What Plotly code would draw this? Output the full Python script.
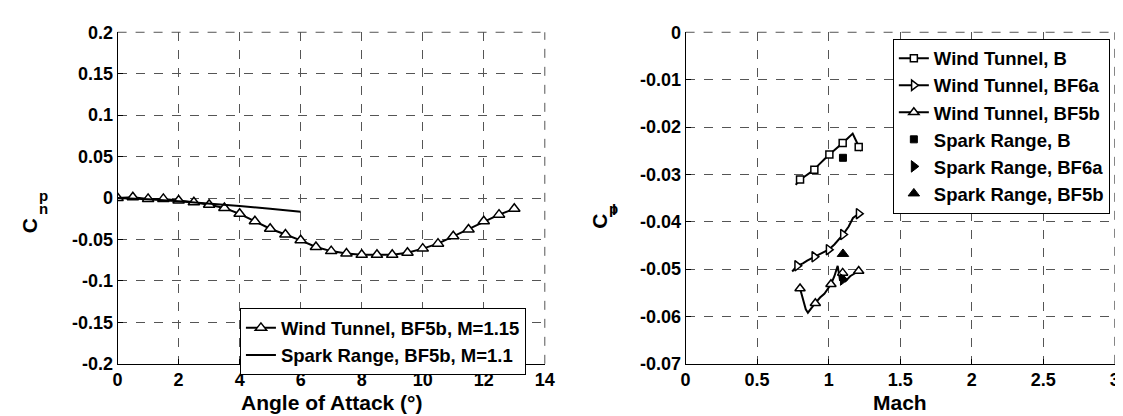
import plotly.graph_objects as go

# ---------------- Left panel data ----------------
aoa_wt = [0, 0.5, 1, 1.5, 2, 2.5, 3, 3.5, 4, 4.5, 5, 5.5, 6, 6.5, 7, 7.5, 8, 8.5,
          9, 9.5, 10, 10.5, 11, 11.5, 12, 12.5, 13]
cnp_wt = [0.0, 0.001, -0.001, -0.001, -0.003, -0.005, -0.008, -0.012, -0.019,
          -0.028, -0.037, -0.044, -0.051, -0.059, -0.064, -0.067, -0.0685,
          -0.0685, -0.0685, -0.066, -0.061, -0.055, -0.046, -0.038, -0.028,
          -0.020, -0.013]
aoa_sr = [0, 1, 2, 3, 4, 5, 6]
cnp_sr = [0.0, -0.0015, -0.004, -0.0065, -0.0095, -0.013, -0.0165]

# ---------------- Right panel data ----------------
mach_b_line = [0.77, 0.80, 0.83, 0.86, 0.90, 0.93, 0.95, 0.97, 1.005, 1.03, 1.06,
               1.098, 1.13, 1.168, 1.19, 1.21, 1.226]
clp_b_line = [-0.0322, -0.0311, -0.0305, -0.0298, -0.0290, -0.0280, -0.0275,
              -0.0268, -0.0258, -0.0252, -0.0244, -0.0234, -0.0225, -0.0214,
              -0.0228, -0.0242, -0.0251]
mach_b_mk = [0.80, 0.90, 1.005, 1.098, 1.21]
clp_b_mk = [-0.0311, -0.0290, -0.0258, -0.0234, -0.0242]

mach_6a_line = [0.745, 0.78, 0.82, 0.85, 0.90, 0.93, 0.96, 1.0, 1.04, 1.07, 1.10,
                1.14, 1.17, 1.21]
clp_6a_line = [-0.0505, -0.0493, -0.0488, -0.0482, -0.0474, -0.0470, -0.0465,
               -0.0459, -0.0448, -0.0438, -0.0427, -0.0410, -0.0392, -0.0383]
mach_6a_mk = [0.78, 0.90, 1.0, 1.10, 1.21]
clp_6a_mk = [-0.0493, -0.0474, -0.0459, -0.0427, -0.0383]

mach_5b_line = [0.80, 0.82, 0.84, 0.855, 0.87, 0.89, 0.907, 0.94, 0.97, 1.0, 1.016,
                1.04, 1.063, 1.08, 1.098, 1.12, 1.15, 1.21]
clp_5b_line = [-0.0541, -0.0565, -0.0585, -0.0592, -0.0585, -0.0578, -0.0572,
               -0.0560, -0.0552, -0.0540, -0.0532, -0.0515, -0.0493, -0.0525,
               -0.0508, -0.0525, -0.0515, -0.0504]
mach_5b_mk = [0.80, 0.907, 1.016, 1.098, 1.21]
clp_5b_mk = [-0.0541, -0.0572, -0.0532, -0.0508, -0.0504]

mach_sr_b, clp_sr_b = [1.10], [-0.0265]
mach_sr_6a, clp_sr_6a = [1.10], [-0.0522]
mach_sr_5b, clp_sr_5b = [1.10], [-0.0468]

W, H = 1123, 416
FONT = "Liberation Sans, Arial, sans-serif"

def px_x(p):
    return p / W

def px_y(p):
    return 1 - p / H

fig = go.Figure()

# ----- left panel -----
fig.add_trace(go.Scatter(
    x=aoa_wt, y=cnp_wt, mode="lines+markers", name="Wind Tunnel, BF5b, M=1.15",
    line=dict(color="black", width=2),
    marker=dict(symbol="triangle-up", size=10, color="white",
                line=dict(color="black", width=1.5)),
    xaxis="x", yaxis="y", legend="legend"))
fig.add_trace(go.Scatter(
    x=aoa_sr, y=cnp_sr, mode="lines", name="Spark Range, BF5b, M=1.1",
    line=dict(color="black", width=2), xaxis="x", yaxis="y", legend="legend"))

# ----- right panel -----
def wt_series(xl, yl, xm, ym, sym, size, name):
    fig.add_trace(go.Scatter(x=xl, y=yl, mode="lines", showlegend=False,
                             line=dict(color="black", width=2),
                             xaxis="x2", yaxis="y2", hoverinfo="skip"))
    fig.add_trace(go.Scatter(x=xm, y=ym, mode="markers", showlegend=False,
                             marker=dict(symbol=sym, size=size, color="white",
                                         line=dict(color="black", width=1.5)),
                             xaxis="x2", yaxis="y2"))
    fig.add_trace(go.Scatter(x=[None], y=[None], mode="lines+markers", name=name,
                             line=dict(color="black", width=2),
                             marker=dict(symbol=sym, size=size, color="white",
                                         line=dict(color="black", width=1.5)),
                             xaxis="x2", yaxis="y2", legend="legend2"))

wt_series(mach_b_line, clp_b_line, mach_b_mk, clp_b_mk, "square", 7, "Wind Tunnel, B")
wt_series(mach_6a_line, clp_6a_line, mach_6a_mk, clp_6a_mk, "triangle-right", 9,
          "Wind Tunnel, BF6a")
wt_series(mach_5b_line, clp_5b_line, mach_5b_mk, clp_5b_mk, "triangle-up", 9,
          "Wind Tunnel, BF5b")

for xs, ys, sym, size, name in [
        (mach_sr_b, clp_sr_b, "square", 7, "Spark Range, B"),
        (mach_sr_6a, clp_sr_6a, "triangle-right", 10, "Spark Range, BF6a"),
        (mach_sr_5b, clp_sr_5b, "triangle-up", 10, "Spark Range, BF5b")]:
    fig.add_trace(go.Scatter(x=xs, y=ys, mode="markers", name=name,
                             marker=dict(symbol=sym, size=size, color="black",
                                         line=dict(color="black", width=1)),
                             xaxis="x2", yaxis="y2", legend="legend2"))

GRIDC = "#555555"
axis_common = dict(
    showline=True, linecolor="black", linewidth=1, mirror=False,
    ticks="inside", ticklen=5, tickcolor="black",
    showgrid=True, gridcolor=GRIDC, gridwidth=1, griddash="dash",
    zeroline=False, tickfont=dict(family=FONT, size=18, color="black", weight="bold"),
)

x1d = [px_x(106), px_x(539)]
x2d = [px_x(681.7), px_x(1116.7)]
yd = [px_y(363.3), px_y(15)]

LEGFONT = dict(family=FONT, size=18.5, color="black", weight="bold")

fig.update_layout(
    width=W, height=H,
    margin=dict(l=0, r=0, t=0, b=0),
    paper_bgcolor="white", plot_bgcolor="white",
    font=dict(family=FONT, size=18, color="black", weight="bold"),
    xaxis=dict(domain=x1d, range=[0, 14], dtick=2, anchor="y", **axis_common),
    yaxis=dict(domain=yd, range=[-0.2, 0.2], anchor="x",
               tickvals=[-0.2, -0.15, -0.1, -0.05, 0, 0.05, 0.1, 0.15, 0.2],
               ticktext=["-0.2", "-0.15", "-0.1", "-0.05", "0", "0.05", "0.1", "0.15", "0.2"],
               **axis_common),
    xaxis2=dict(domain=x2d, range=[0, 3], dtick=0.5, anchor="y2", **axis_common),
    yaxis2=dict(domain=yd, range=[-0.07, 0], anchor="x2",
                tickvals=[-0.07, -0.06, -0.05, -0.04, -0.03, -0.02, -0.01, 0],
                ticktext=["-0.07", "-0.06", "-0.05", "-0.04", "-0.03", "-0.02", "-0.01", "0"],
                **axis_common),
    legend=dict(x=px_x(230), y=px_y(305), xanchor="left", yanchor="top",
                bgcolor="white", bordercolor="black", borderwidth=1, font=LEGFONT,
                itemwidth=30),
    legend2=dict(x=px_x(1111.7), y=px_y(21.7), xanchor="right", yanchor="top",
                 bgcolor="white", bordercolor="black", borderwidth=1, font=LEGFONT,
                 itemwidth=30),
    showlegend=True,
)

# dashed grid lines along the top and right edges of each panel (box off)
for xr, yr in [("x domain", "y domain"), ("x2 domain", "y2 domain")]:
    fig.add_shape(type="line", xref=xr, yref=yr, x0=0, x1=1, y0=1, y1=1,
                  line=dict(color=GRIDC, width=1, dash="dash"), layer="below")
    fig.add_shape(type="line", xref=xr, yref=yr, x0=1, x1=1, y0=0, y1=1,
                  line=dict(color=GRIDC, width=1, dash="dash"), layer="below")

annots = [
    dict(text="Angle of Attack (°)", x=px_x(322.5), y=px_y(404), font_size=21),
    dict(text="Mach", x=px_x(899), y=px_y(404), font_size=21),
    dict(text="C", x=px_x(17), y=px_y(218), font_size=21, textangle=-90),
    dict(text="p", x=px_x(31), y=px_y(186), font_size=15),
    dict(text="n", x=px_x(31), y=px_y(200), font_size=15),
    dict(text="C", x=px_x(595), y=px_y(214), font_size=21, textangle=-90),
    dict(text="p", x=px_x(609), y=px_y(200), font_size=15),
    dict(text="l", x=px_x(609), y=px_y(201), font_size=15),
]
for a in annots:
    fig.add_annotation(xref="paper", yref="paper", showarrow=False,
                       xanchor="center", yanchor="middle", borderpad=0,
                       font=dict(family=FONT, color="black", weight="bold",
                                 size=a.pop("font_size")), **a)

fig.write_html("out.html")
